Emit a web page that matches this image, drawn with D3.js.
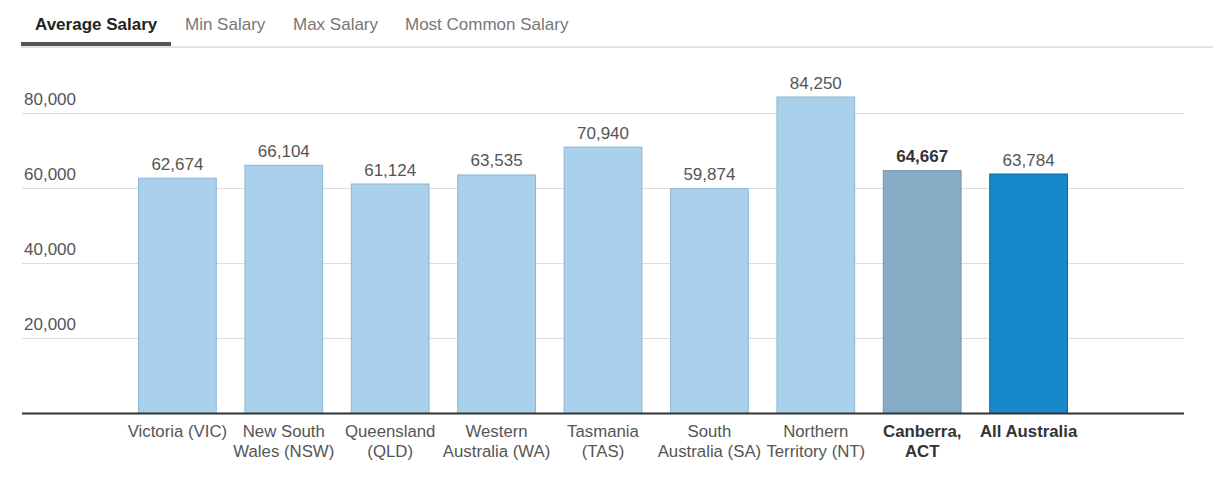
<!DOCTYPE html>
<html>
<head>
<meta charset="utf-8">
<script src="https://cdn.jsdelivr.net/npm/d3@7"></script>
<style>
  html, body { margin: 0; padding: 0; background: #fff; }
  svg { display: block; font-family: "Liberation Sans", Arial, sans-serif; }
</style>
</head>
<body>
<svg id="chart" width="1220" height="490"></svg>
<script>
const tabs = ["Average Salary", "Min Salary", "Max Salary", "Most Common Salary"];
const categories = [
  ["Victoria (VIC)"],
  ["New South", "Wales (NSW)"],
  ["Queensland", "(QLD)"],
  ["Western", "Australia (WA)"],
  ["Tasmania", "(TAS)"],
  ["South", "Australia (SA)"],
  ["Northern", "Territory (NT)"],
  ["Canberra,", "ACT"],
  ["All Australia"]
];
const values = [62674, 66104, 61124, 63535, 70940, 59874, 84250, 64667, 63784];
const yTicks = [20000, 40000, 60000, 80000];
const highlight = [false, false, false, false, false, false, false, true, true];

const svg = d3.select("#chart");

// Tabs
const tabX = [35, 185, 293, 405];
svg.selectAll("text.tab").data(tabs).join("text")
  .attr("class", "tab")
  .attr("x", (d, i) => tabX[i])
  .attr("y", 30)
  .attr("font-size", 17)
  .attr("font-weight", (d, i) => i === 0 ? "bold" : "normal")
  .attr("fill", (d, i) => i === 0 ? "#222" : "#777")
  .text(d => d);
svg.append("rect").attr("x", 21).attr("y", 46.5).attr("width", 1192).attr("height", 1.2).attr("fill", "#d0d0d0");
svg.append("rect").attr("x", 21).attr("y", 42).attr("width", 150).attr("height", 4).attr("fill", "#555");

const ids = categories.map((c, i) => i);
const x = d3.scaleBand().domain(ids).range([124.2, 1081.8]).paddingInner(0.26).paddingOuter(0.13);
const y = d3.scaleLinear().domain([0, 80000]).range([413.5, 112.5]);

// gridlines
const g = svg.append("g");
g.selectAll("line.grid").data(yTicks).join("line")
  .attr("x1", 22).attr("x2", 1184)
  .attr("y1", d => Math.round(y(d)) + 0.5).attr("y2", d => Math.round(y(d)) + 0.5)
  .attr("stroke", "#dddddd").attr("stroke-width", 1.2);
g.selectAll("text.ytick").data(yTicks).join("text")
  .attr("x", 24).attr("y", d => y(d) - 8)
  .attr("font-size", 17).attr("fill", "#555")
  .text(d => d3.format(",")(d));

// bars
const fill = i => i === 8 ? "#1788c9" : (i === 7 ? "#85abc5" : "#aad1eb");
const stroke = i => i === 8 ? "#0d66a3" : (i === 7 ? "#6e96b1" : "#8cb7d4");
g.selectAll("rect.bar").data(values).join("rect")
  .attr("x", (d, i) => x(i) + 0.5)
  .attr("y", d => y(d) + 0.5)
  .attr("width", x.bandwidth() - 1)
  .attr("height", d => y(0) - y(d) - 0.5)
  .attr("fill", (d, i) => fill(i))
  .attr("stroke", (d, i) => stroke(i))
  .attr("stroke-width", 1);

// value labels
g.selectAll("text.val").data(values).join("text")
  .attr("x", (d, i) => x(i) + x.bandwidth() / 2)
  .attr("y", d => y(d) - 8)
  .attr("text-anchor", "middle")
  .attr("font-size", 17)
  .attr("font-weight", (d, i) => i === 7 ? "bold" : "normal")
  .attr("fill", (d, i) => i === 7 ? "#333" : "#555")
  .text(d => d3.format(",")(d));

// baseline
g.append("line").attr("x1", 22).attr("x2", 1184).attr("y1", 413.5).attr("y2", 413.5)
  .attr("stroke", "#333").attr("stroke-width", 2);

// category labels
const cl = g.selectAll("text.cat").data(categories).join("text")
  .attr("text-anchor", "middle")
  .attr("font-size", 16.8)
  .attr("font-weight", (d, i) => highlight[i] ? "bold" : "normal")
  .attr("fill", (d, i) => highlight[i] ? "#333" : "#555")
  .attr("transform", (d, i) => `translate(${x(i) + x.bandwidth() / 2},0)`);
cl.selectAll("tspan").data(d => d).join("tspan")
  .attr("x", 0).attr("y", (d, j) => 437 + j * 20)
  .text(d => d);
</script>
</body>
</html>
